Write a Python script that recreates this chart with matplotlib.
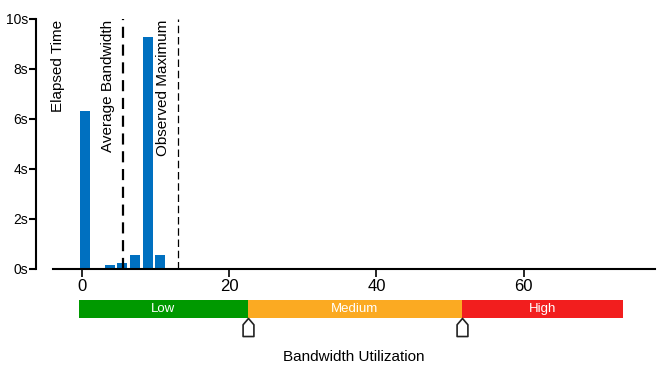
import matplotlib
matplotlib.use("Agg")
import matplotlib.pyplot as plt
import matplotlib.transforms as mtransforms
from matplotlib.path import Path
import numpy as np

plt.rcParams["font.family"] = ["Liberation Sans", "DejaVu Sans"]

# histogram of elapsed time per bandwidth bin
bin_centers = [0.4, 2.1, 3.8, 5.5, 7.2, 9.0, 10.6, 12.3]
elapsed_s = [6.32, 0.0, 0.18, 0.26, 0.55, 9.29, 0.55, 0.06]
bar_width = 1.36

avg_bandwidth = 5.6
max_bandwidth = 13.0

y_ticks = [0, 2, 4, 6, 8, 10]
x_ticks = [0, 20, 40, 60]

# utilization gauge
zone_edges = [-0.4, 22.5, 51.6, 73.5]
zone_names = ["Low", "Medium", "High"]
zone_colors = ["#009900", "#FBAA22", "#F21E1E"]

BLUE = "#0070C0"

fig = plt.figure(figsize=(6.58, 3.71), dpi=100)
ax = fig.add_axes([53 / 658, 1 - 269 / 371, 602 / 658, 250 / 371])

ax.bar(bin_centers, elapsed_s, width=bar_width, color=BLUE, zorder=2)

ax.axvline(avg_bandwidth, color="black", lw=1.6, ls=(0, (5, 3)), zorder=3)
ax.axvline(max_bandwidth, color="black", lw=0.9, ls=(0, (6, 3)), zorder=3)

ax.text(-3.25, 9.98, "Elapsed Time", rotation=90, ha="center", va="top", fontsize=11)
ax.text(avg_bandwidth - 2.1, 9.98, "Average Bandwidth", rotation=90, ha="center", va="top", fontsize=11)
ax.text(max_bandwidth - 2.0, 9.98, "Observed Maximum", rotation=90, ha="center", va="top", fontsize=11)

ax.set_xlim(-3.9, 77.8)
ax.set_ylim(0, 10)
ax.set_yticks(y_ticks)
ax.set_yticklabels([f"{v}s" for v in y_ticks], fontsize=12)
ax.set_xticks(x_ticks)
ax.set_xticklabels([str(v) for v in x_ticks], fontsize=12)
ax.tick_params(axis="y", length=5, width=1.5, pad=1)
ax.tick_params(axis="x", length=6, width=1.2, pad=1)

for s in ["top", "right"]:
    ax.spines[s].set_visible(False)
ax.spines["left"].set_position(("outward", 12))
ax.spines["left"].set_linewidth(1.5)
ax.spines["bottom"].set_linewidth(1.5)

# gauge below the axis
trans = mtransforms.blended_transform_factory(ax.transData, ax.transAxes)
g_bot, g_top = -0.196, -0.124
for i, name in enumerate(zone_names):
    x0, x1 = zone_edges[i], zone_edges[i + 1]
    ax.add_patch(plt.Rectangle((x0, g_bot), x1 - x0, g_top - g_bot, transform=trans,
                               color=zone_colors[i], clip_on=False, lw=0))
    ax.text((x0 + x1) / 2, (g_bot + g_top) / 2, name, transform=trans, ha="center",
            va="center", color="white", fontsize=9.5)

house = Path([(-0.6, -1.0), (0.6, -1.0), (0.6, 0.3), (0.0, 1.0), (-0.6, 0.3), (-0.6, -1.0)],
             [Path.MOVETO, Path.LINETO, Path.LINETO, Path.LINETO, Path.LINETO, Path.CLOSEPOLY])
ax.plot(zone_edges[1:3], [-0.232, -0.232], transform=trans, ls="none", marker=house,
        markersize=13, markerfacecolor="white", markeredgecolor="#222222",
        markeredgewidth=1.2, clip_on=False)

ax.text(0.5, -0.352, "Bandwidth Utilization", transform=ax.transAxes, ha="center",
        va="center", fontsize=11)

fig.savefig("out.png", dpi=100)
